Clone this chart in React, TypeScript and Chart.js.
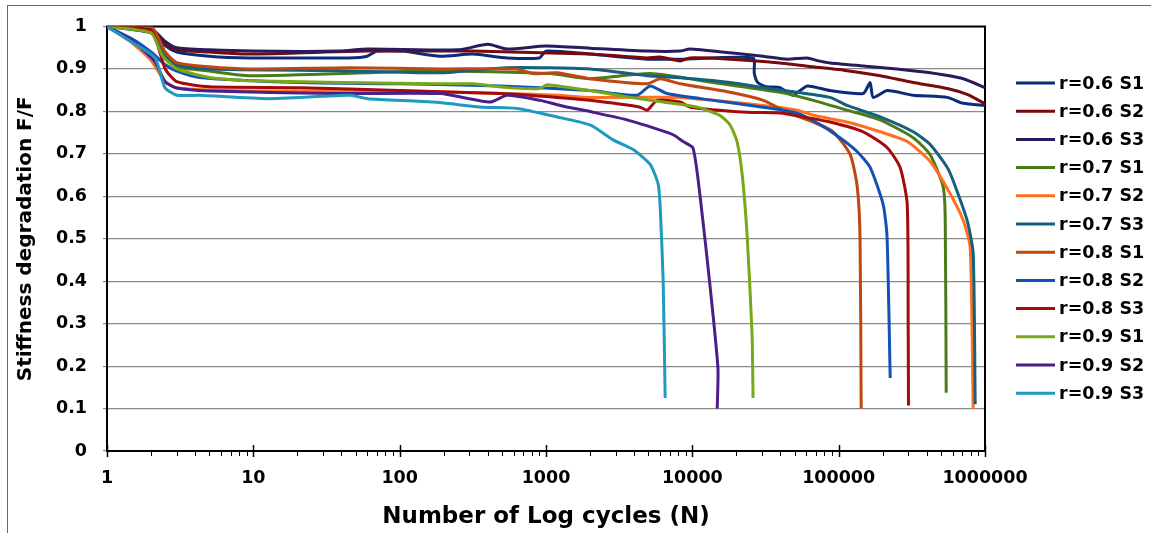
import React, { useEffect, useRef } from 'react';
import { Chart, registerables } from 'chart.js';

Chart.register(...registerables);

const seriesLabels = ['r=0.6 S1', 'r=0.6 S2', 'r=0.6 S3', 'r=0.7 S1', 'r=0.7 S2', 'r=0.7 S3', 'r=0.8 S1', 'r=0.8 S2', 'r=0.8 S3', 'r=0.9 S1', 'r=0.9 S2', 'r=0.9 S3'];
const seriesColors = ['#0C2A7A', '#780A0A', '#2B1A5C', '#4A7A1A', '#FF7020', '#15607A', '#C0470F', '#1252B2', '#A30A0A', '#78A818', '#4B1E8A', '#1E9AC0'];

const xTickValues = [1, 10, 100, 1000, 10000, 100000, 1000000];
const yTickStep = 0.1;

const r06S1N = [1, 2, 2.5, 3, 5, 9.5, 45, 60, 70, 105, 189, 316, 542, 900, 1000, 2000, 4910, 8260, 26000, 26500, 28000, 32000, 39800, 48800, 60900, 87400, 147000, 164000, 172000, 215000, 323000, 552000, 710000, 1000000];
const r06S1F = [1, 0.985, 0.955, 0.94, 0.93, 0.926, 0.926, 0.93, 0.942, 0.942, 0.93, 0.935, 0.926, 0.926, 0.942, 0.935, 0.923, 0.923, 0.926, 0.89, 0.868, 0.858, 0.856, 0.838, 0.86, 0.849, 0.842, 0.868, 0.833, 0.849, 0.838, 0.833, 0.819, 0.814];

const r06S2N = [1, 2, 2.5, 3, 5, 9.5, 60, 316, 2000, 4910, 6000, 8260, 9600, 18100, 39800, 67000, 114000, 192000, 323000, 552000, 755000, 1000000];
const r06S2F = [1, 0.995, 0.96, 0.945, 0.94, 0.935, 0.942, 0.942, 0.935, 0.926, 0.928, 0.919, 0.926, 0.923, 0.914, 0.905, 0.896, 0.884, 0.868, 0.854, 0.84, 0.818];

const r06S3N = [1, 2, 2.5, 3, 5, 10, 39, 60, 250, 400, 542, 1000, 2000, 4910, 8260, 9600, 18100, 30500, 44400, 60900, 73000, 87400, 147000, 250000, 422000, 710000, 1000000];
const r06S3F = [1, 0.995, 0.965, 0.95, 0.945, 0.942, 0.942, 0.947, 0.945, 0.958, 0.947, 0.954, 0.949, 0.942, 0.942, 0.947, 0.938, 0.93, 0.923, 0.926, 0.919, 0.914, 0.907, 0.9, 0.891, 0.877, 0.856];

const r07S1N = [1, 2, 2.5, 3, 5, 9.5, 60, 169, 1067, 2000, 5150, 13900, 39800, 67000, 114000, 192000, 323000, 422000, 518000, 535000, 543000];
const r07S1F = [1, 0.99, 0.93, 0.905, 0.895, 0.884, 0.891, 0.896, 0.889, 0.877, 0.889, 0.868, 0.845, 0.826, 0.803, 0.78, 0.738, 0.698, 0.622, 0.543, 0.137];

const r07S2N = [1, 1.5, 2, 2.5, 3, 10, 100, 542, 1190, 2000, 8260, 13900, 30500, 52000, 67000, 114000, 192000, 294000, 422000, 578000, 710000, 792000, 830000];
const r07S2F = [1, 0.96, 0.92, 0.87, 0.855, 0.848, 0.848, 0.842, 0.838, 0.833, 0.833, 0.826, 0.814, 0.803, 0.791, 0.775, 0.752, 0.729, 0.682, 0.606, 0.543, 0.48, 0.1];

const r07S3N = [1, 2, 2.5, 3, 5, 39, 189, 542, 2000, 4910, 8260, 18100, 30500, 52000, 87400, 114000, 192000, 323000, 422000, 552000, 607000, 755000, 830000, 857000];
const r07S3F = [1, 0.99, 0.935, 0.91, 0.9, 0.896, 0.891, 0.903, 0.9, 0.884, 0.879, 0.868, 0.856, 0.845, 0.833, 0.814, 0.787, 0.752, 0.722, 0.668, 0.636, 0.543, 0.466, 0.11];

const r08S1N = [1, 2, 2.5, 3, 5, 9.5, 45.8, 189, 634, 817, 1190, 2000, 4910, 6030, 8260, 18100, 30500, 44400, 67000, 91700, 120000, 134000, 140000, 142500];
const r08S1F = [1, 1, 0.94, 0.915, 0.905, 0.9, 0.903, 0.9, 0.9, 0.889, 0.891, 0.877, 0.865, 0.877, 0.865, 0.845, 0.826, 0.798, 0.775, 0.752, 0.698, 0.622, 0.5, 0.1];

const r08S2N = [1, 1.5, 2, 2.5, 3, 4.3, 20.8, 100, 486, 2000, 4200, 5150, 6730, 13900, 30500, 52000, 72000, 102000, 134000, 164000, 201000, 214000, 225000];
const r08S2F = [1, 0.97, 0.94, 0.91, 0.895, 0.88, 0.868, 0.865, 0.86, 0.849, 0.838, 0.86, 0.842, 0.826, 0.81, 0.796, 0.772, 0.738, 0.705, 0.668, 0.582, 0.506, 0.172];

const r08S3N = [1, 2, 2.5, 3, 5, 20.8, 100, 486, 1190, 2000, 4400, 4910, 5750, 8260, 9660, 23700, 39800, 57200, 87400, 147000, 214000, 263000, 294000, 298500, 300000];
const r08S3F = [1, 0.99, 0.9, 0.87, 0.858, 0.856, 0.849, 0.842, 0.833, 0.826, 0.81, 0.803, 0.826, 0.822, 0.81, 0.798, 0.796, 0.787, 0.775, 0.752, 0.715, 0.668, 0.582, 0.3, 0.107];

const r09S1N = [1, 2, 2.4, 3, 5, 9.5, 169, 316, 542, 911, 1018, 2000, 3760, 6320, 10800, 15500, 18100, 20200, 21900, 23700, 25600, 26000];
const r09S1F = [1, 0.985, 0.93, 0.9, 0.88, 0.872, 0.865, 0.865, 0.856, 0.854, 0.863, 0.849, 0.833, 0.822, 0.81, 0.79, 0.768, 0.729, 0.652, 0.506, 0.274, 0.125];

const r09S2N = [1, 1.5, 2.1, 2.5, 3, 5, 35, 189, 415, 542, 911, 1250, 2100, 3580, 6030, 7400, 8650, 10100, 11300, 13200, 14960, 14790];
const r09S2F = [1, 0.965, 0.92, 0.87, 0.855, 0.848, 0.842, 0.842, 0.822, 0.838, 0.826, 0.814, 0.798, 0.78, 0.756, 0.745, 0.729, 0.714, 0.6, 0.39, 0.195, 0.1];

const r09S3N = [1, 1.5, 2.13, 2.49, 3, 4.3, 12.4, 45.8, 60, 169, 371, 634, 1190, 2000, 2875, 3940, 5150, 5840, 6030, 6320, 6520];
const r09S3F = [1, 0.962, 0.926, 0.856, 0.838, 0.838, 0.83, 0.838, 0.83, 0.822, 0.81, 0.807, 0.787, 0.768, 0.733, 0.71, 0.675, 0.629, 0.575, 0.4, 0.125];

const seriesN = [r06S1N, r06S2N, r06S3N, r07S1N, r07S2N, r07S3N, r08S1N, r08S2N, r08S3N, r09S1N, r09S2N, r09S3N];
const seriesF = [r06S1F, r06S2F, r06S3F, r07S1F, r07S2F, r07S3F, r08S1F, r08S2F, r08S3F, r09S1F, r09S2F, r09S3F];

const FONT = 'DejaVu Sans';

const framePlugin = {
  id: 'frameTicksLegend',
  beforeDatasetsDraw(chart: any) {
    const { ctx, chartArea: a, scales } = chart;
    const x = scales.x;
    ctx.save();
    ctx.strokeStyle = '#000';
    ctx.lineWidth = 2;
    ctx.strokeRect(a.left, a.top, a.right - a.left, a.bottom - a.top);
    for (let d = 0; d < 6; d++) {
      for (let k = 1; k <= 9; k++) {
        const v = k * Math.pow(10, d);
        const px = Math.round(x.getPixelForValue(v)) + 0.5;
        ctx.beginPath();
        if (k === 1) {
          ctx.lineWidth = 1.5;
          ctx.moveTo(px, a.bottom - 6);
          ctx.lineTo(px, a.bottom + 6);
        } else {
          ctx.lineWidth = 1;
          ctx.moveTo(px, a.bottom);
          ctx.lineTo(px, a.bottom + 5);
        }
        ctx.stroke();
      }
    }
    const pe = Math.round(x.getPixelForValue(1000000)) + 0.5;
    ctx.lineWidth = 1.5;
    ctx.beginPath();
    ctx.moveTo(pe, a.bottom - 6);
    ctx.lineTo(pe, a.bottom + 6);
    ctx.stroke();
    ctx.restore();
  },
  afterDraw(chart: any) {
    const { ctx, chartArea: a } = chart;
    ctx.save();
    ctx.font = `bold 17.5px "${FONT}"`;
    ctx.textBaseline = 'middle';
    ctx.textAlign = 'left';
    const x0 = a.right + 31;
    const y0 = 83;
    const step = 28.2;
    chart.data.datasets.forEach((ds: any, i: number) => {
      const y = y0 + i * step;
      ctx.strokeStyle = ds.borderColor;
      ctx.lineWidth = 3;
      ctx.beginPath();
      ctx.moveTo(x0, y);
      ctx.lineTo(x0 + 39, y);
      ctx.stroke();
      ctx.fillStyle = '#000';
      ctx.fillText(ds.label, x0 + 43, y + 1);
    });
    ctx.restore();
  },
};

export default function App() {
  const ref = useRef<HTMLCanvasElement | null>(null);

  useEffect(() => {
    if (!ref.current) return;
    const datasets = seriesLabels.map((label, i) => ({
      label,
      data: seriesN[i].map((n, j) => ({ x: n, y: seriesF[i][j] })),
      borderColor: seriesColors[i],
      backgroundColor: seriesColors[i],
      borderWidth: 3,
      pointRadius: 0,
      showLine: true,
      tension: 0.2,
      order: seriesLabels.length - i,
    }));
    const chart = new Chart(ref.current, {
      type: 'scatter',
      data: { datasets },
      options: {
        animation: false,
        responsive: false,
        maintainAspectRatio: false,
        layout: { padding: { left: 0, top: 20, right: 166, bottom: 0 } },
        plugins: { legend: { display: false }, tooltip: { enabled: false } },
        scales: {
          x: {
            type: 'logarithmic',
            min: 1,
            max: 1000000,
            afterBuildTicks: (s: any) => {
              s.ticks = xTickValues.map((v) => ({ value: v, major: true }));
            },
            afterFit: (s: any) => {
              s.height = 82;
            },
            ticks: {
              autoSkip: false,
              maxRotation: 0,
              padding: 17,
              color: '#000',
              font: { family: FONT, weight: 'bold', size: 17.5 },
              callback: (v: any) => String(v),
            },
            grid: { display: true, drawOnChartArea: false, drawTicks: false },
            border: { color: '#000', width: 2 },
            title: {
              display: true,
              text: 'Number of Log cycles (N)',
              color: '#000',
              font: { family: FONT, weight: 'bold', size: 23 },
              padding: { top: 0, bottom: 2 },
            },
          },
          y: {
            type: 'linear',
            min: 0,
            max: 1,
            afterFit: (s: any) => {
              s.width = 107;
            },
            ticks: {
              stepSize: yTickStep,
              padding: 16,
              color: '#000',
              font: { family: FONT, weight: 'bold', size: 17.5 },
              callback: (v: any) => String(Number(Number(v).toFixed(1))),
            },
            grid: { color: '#8a8a8a', lineWidth: 1.2, drawTicks: true, tickLength: 4 },
            border: { color: '#000', width: 2 },
            title: {
              display: true,
              text: 'Stiffness degradation F/F',
              color: '#000',
              font: { family: FONT, weight: 'bold', size: 20 },
              padding: { top: 14, bottom: 0 },
            },
          },
        },
      },
      plugins: [framePlugin],
    });
    return () => chart.destroy();
  }, []);

  return (
    <div style={{ position: 'fixed', left: 0, top: 0, width: 1151, height: 533, background: '#fff', overflow: 'hidden' }}>
      <div style={{ position: 'absolute', left: 7, top: 5, width: 1160, height: 560, borderTop: '1px solid #666', borderLeft: '1px solid #666' }} />
      <canvas ref={ref} width={1151} height={533} style={{ position: 'absolute', left: 0, top: 0, display: 'block' }} />
    </div>
  );
}
